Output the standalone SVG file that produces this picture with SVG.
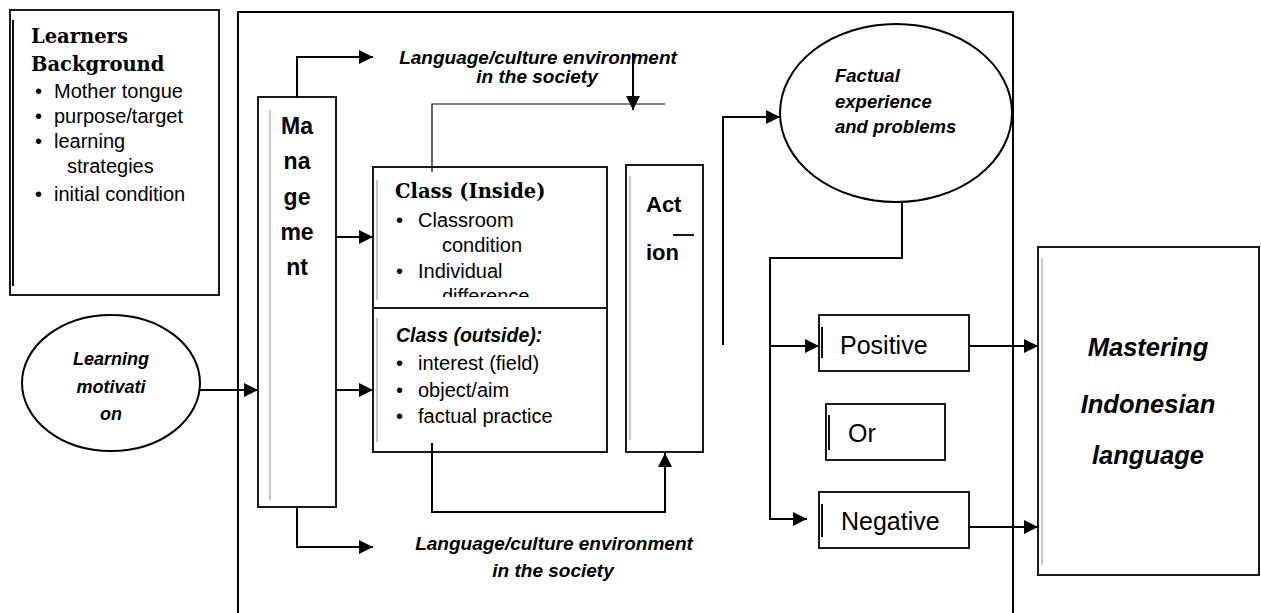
<svg xmlns="http://www.w3.org/2000/svg" width="1261" height="613" viewBox="0 0 1261 613">
  <defs>
    <marker id="arrow" viewBox="0 0 10 10" refX="10" refY="5" markerWidth="15" markerHeight="14" markerUnits="userSpaceOnUse" orient="auto">
      <path d="M0,0 L10,5 L0,10 z" fill="#000"/>
    </marker>
    <clipPath id="clipInside">
      <rect x="373" y="167" width="234" height="130"/>
    </clipPath>
  </defs>
  <style>
    .box { fill: #fff; stroke: #1a1a1a; stroke-width: 2; }
    .ell { fill: #fff; stroke: #000; stroke-width: 2; }
    .edge { fill: none; stroke: #000; stroke-width: 2; }
    .thin { fill: none; stroke: #000; stroke-width: 1.2; }
    .shade { stroke: #c8c8c8; stroke-width: 2; }
    .dark { stroke: #111; stroke-width: 2; }
    .sans { font-family: "Liberation Sans", Arial, sans-serif; fill: #000; }
    .serifb { font-family: "DejaVu Serif", "Liberation Serif", serif; font-weight: bold; fill: #000; }
    .body { font-size: 20px; }
    .bi { font-weight: bold; font-style: italic; }
    .b { font-weight: bold; }
    .mid { text-anchor: middle; }
  </style>

  <rect width="1261" height="613" fill="#fff"/>

  <!-- outer frame -->
  <g id="frame">
    <path class="edge" d="M238,613 V12 H1013 V613"/>
  </g>

  <!-- learners background -->
  <g id="learners-background">
    <rect class="box" x="10" y="10" width="209" height="285"/>
    <line class="dark" x1="13" y1="20" x2="13" y2="286"/>
    <text class="serifb" font-size="19.5" x="31" y="43">Learners</text>
    <text class="serifb" font-size="19.5" x="31" y="71">Background</text>
    <g class="sans body">
      <text x="35" y="98">•</text><text x="54" y="98">Mother tongue</text>
      <text x="35" y="123">•</text><text x="54" y="123">purpose/target</text>
      <text x="35" y="148">•</text><text x="54" y="148">learning</text>
      <text x="67" y="173">strategies</text>
      <text x="35" y="201">•</text><text x="54" y="201">initial condition</text>
    </g>
  </g>

  <!-- learning motivation -->
  <g id="learning-motivation">
    <ellipse class="ell" cx="111" cy="383" rx="89" ry="68"/>
    <g class="sans bi mid" font-size="18">
      <text x="111" y="365">Learning</text>
      <text x="111" y="393">motivati</text>
      <text x="111" y="420">on</text>
    </g>
  </g>

  <!-- management -->
  <g id="management">
    <rect class="box" x="258" y="97" width="78" height="410"/>
    <line class="shade" x1="270" y1="110" x2="270" y2="500"/>
    <g class="sans b mid" font-size="23">
      <text x="297" y="134">Ma</text>
      <text x="297" y="169">na</text>
      <text x="297" y="205">ge</text>
      <text x="297" y="240">me</text>
      <text x="297" y="275">nt</text>
    </g>
  </g>

  <!-- environment labels -->
  <g id="environment-top">
    <text class="sans bi mid" font-size="19" x="538" y="64">Language/culture environment</text>
    <text class="sans bi mid" font-size="19" x="537" y="83">in the society</text>
  </g>
  <g id="environment-bottom">
    <text class="sans bi mid" font-size="19" x="554" y="550">Language/culture environment</text>
    <text class="sans bi mid" font-size="19" x="553" y="577">in the society</text>
  </g>

  <!-- class inside -->
  <g id="class-inside">
    <rect class="box" x="373" y="167" width="234" height="141"/>
    <line class="shade" x1="377" y1="180" x2="377" y2="300"/>
    <text class="serifb" font-size="19.5" x="395" y="198">Class (Inside)</text>
    <g class="sans body" clip-path="url(#clipInside)">
      <text x="396" y="227">•</text><text x="418" y="227">Classroom</text>
      <text x="442" y="252">condition</text>
      <text x="396" y="278">•</text><text x="418" y="278">Individual</text>
      <text x="442" y="303">difference</text>
    </g>
  </g>

  <!-- class outside -->
  <g id="class-outside">
    <rect class="box" x="373" y="308" width="234" height="144"/>
    <line class="shade" x1="377" y1="318" x2="377" y2="442"/>
    <text class="sans bi" font-size="19.5" x="396" y="342">Class (outside):</text>
    <g class="sans body">
      <text x="396" y="370">•</text><text x="418" y="370">interest (field)</text>
      <text x="396" y="397">•</text><text x="418" y="397">object/aim</text>
      <text x="396" y="423">•</text><text x="418" y="423">factual practice</text>
    </g>
  </g>

  <!-- action -->
  <g id="action">
    <rect class="box" x="626" y="165" width="77" height="287"/>
    <line class="shade" x1="630" y1="176" x2="630" y2="440"/>
    <text class="sans b" font-size="22" x="646" y="212">Act</text>
    <line class="dark" x1="673" y1="235" x2="694" y2="235"/>
    <text class="sans b" font-size="22" x="646" y="260">ion</text>
  </g>

  <!-- factual experience -->
  <g id="factual-experience">
    <ellipse class="ell" cx="896" cy="113" rx="116" ry="89"/>
    <g class="sans bi" font-size="18.5">
      <text x="835" y="82">Factual</text>
      <text x="835" y="108">experience</text>
      <text x="835" y="133">and problems</text>
    </g>
  </g>

  <!-- outcomes -->
  <g id="positive">
    <rect class="box" x="819" y="315" width="150" height="56"/>
    <line class="dark" x1="822" y1="327" x2="822" y2="358"/>
    <text class="sans" font-size="25" x="840" y="354">Positive</text>
  </g>
  <g id="or">
    <rect class="box" x="826" y="404" width="119" height="56"/>
    <line class="dark" x1="829" y1="415" x2="829" y2="450"/>
    <text class="sans" font-size="25" x="848" y="442">Or</text>
  </g>
  <g id="negative">
    <rect class="box" x="819" y="492" width="150" height="56"/>
    <line class="dark" x1="822" y1="504" x2="822" y2="537"/>
    <text class="sans" font-size="25" x="841" y="530">Negative</text>
  </g>

  <!-- mastering -->
  <g id="mastering">
    <rect class="box" x="1038" y="247" width="221" height="328"/>
    <line class="shade" x1="1042" y1="258" x2="1042" y2="565"/>
    <g class="sans bi mid" font-size="25.5">
      <text x="1148" y="356">Mastering</text>
      <text x="1148" y="413">Indonesian</text>
      <text x="1148" y="464">language</text>
    </g>
  </g>

  <!-- connectors -->
  <g id="connectors">
    <path class="edge" d="M297,97 V57 H373" marker-end="url(#arrow)"/>
    <path class="edge" d="M336,237 H373" marker-end="url(#arrow)"/>
    <path class="edge" d="M336,390 H373" marker-end="url(#arrow)"/>
    <path class="edge" d="M200,390 H258" marker-end="url(#arrow)"/>
    <path class="edge" d="M297,507 V547 H373" marker-end="url(#arrow)"/>
    <path class="edge" d="M633,53 V110" marker-end="url(#arrow)"/>
    <path class="thin" d="M432,172 V104 H665"/>
    <path class="edge" d="M432,443 V512 H665 V453" marker-end="url(#arrow)"/>
    <path class="edge" d="M723,345 V117 H780" marker-end="url(#arrow)"/>
    <path class="edge" d="M902,202 V258 H770 V519 H807" marker-end="url(#arrow)"/>
    <path class="edge" d="M770,346 H819" marker-end="url(#arrow)"/>
    <path class="edge" d="M969,346 H1038" marker-end="url(#arrow)"/>
    <path class="edge" d="M969,527 H1038" marker-end="url(#arrow)"/>
  </g>
</svg>
